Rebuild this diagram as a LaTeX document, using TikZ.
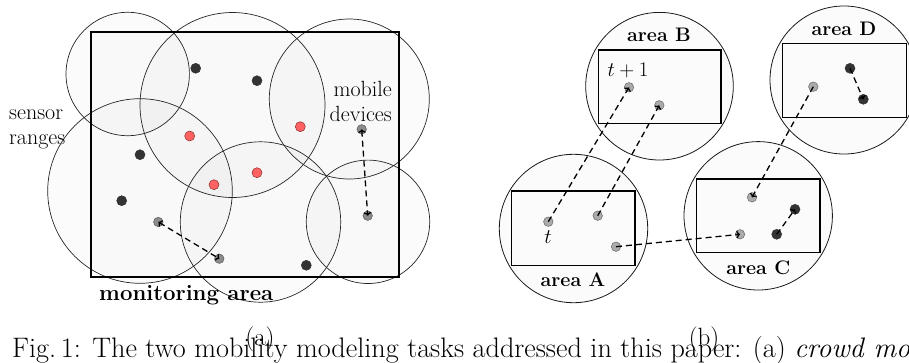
\documentclass[tikz,border=0pt]{standalone}
\usetikzlibrary{arrows.meta}
\definecolor{dotred}{RGB}{255,98,98}
\definecolor{dotredline}{RGB}{140,45,45}
\begin{document}
\begin{tikzpicture}[x=1pt,y=-1pt,
  sensorcirc/.style={draw=black!85, line width=0.7pt, fill=black, fill opacity=0.016},
  areacirc/.style={draw=black!90, line width=0.8pt, fill=black, fill opacity=0.014},
  areabox/.style={draw=black, line width=1.4pt},
  pdot/.style={circle, inner sep=0pt, minimum size=10pt, line width=0.5pt},
  bdot/.style={pdot, fill=black!80, draw=black!80},
  rdot/.style={pdot, fill=dotred, draw=dotredline},
  gdot/.style={pdot, minimum size=9.5pt, fill=black!45, draw=black!65},
  ldot/.style={pdot, minimum size=9.5pt, fill=black!33, draw=black!60},
  arr/.style={line width=1.3pt, dash pattern=on 6pt off 4pt, -{To[length=3.5pt,width=7.5pt]}},
  darr/.style={arr, {To[length=3.5pt,width=7.5pt]}-{To[length=3.5pt,width=7.5pt]}},
  lbl/.style={inner sep=0pt, anchor=base, font=\fontsize{22}{26}\selectfont},
  albl/.style={lbl, font=\fontsize{19.6}{24}\selectfont\bfseries},
  captxt/.style={inner sep=0pt, anchor=base, font=\fontsize{25}{30}\selectfont}
]
\useasboundingbox (0,0) rectangle (909,362);
\clip (0,0) rectangle (909,362);

% ---------- (a) crowd monitoring ----------
\fill[black, fill opacity=0.008] (91,32) rectangle (399,277);
\draw[sensorcirc] (127.7,74) circle[radius=61.7pt];
\draw[sensorcirc] (232.5,105) circle[radius=92.5pt];
\draw[sensorcirc] (349.3,99) circle[radius=80pt];
\draw[sensorcirc] (140,191) circle[radius=92.3pt];
\draw[sensorcirc] (260.5,222) circle[radius=80.2pt];
\draw[sensorcirc] (368,221.8) circle[radius=61.7pt];
\draw[areabox] (91,32) rectangle (399,277);

\node[bdot] (k1) at (195.7,68.3) {};
\node[bdot] (k2) at (257,80.7) {};
\node[bdot] (k3) at (140,154.7) {};
\node[bdot] (k4) at (121.7,200.7) {};
\node[bdot] (k5) at (306.3,265.3) {};
\node[rdot] (r1) at (189.7,136) {};
\node[rdot] (r2) at (300.3,126.7) {};
\node[rdot] (r3) at (214,184.7) {};
\node[rdot] (r4) at (257,172.7) {};
\node[gdot] (m1) at (158.3,222) {};
\node[gdot] (m2) at (219.3,258.7) {};
\node[gdot] (m3) at (361.7,129.3) {};
\node[gdot] (m4) at (367.7,215.7) {};
\draw[darr] (m1.center) -- (m2.center);
\draw[darr] (m3.center) -- (m4.center);

\node[lbl, anchor=base west] (sensor) at (9,119) {sensor};
\node[lbl, anchor=base west] (ranges) at (9,144) {ranges};
\node[lbl, anchor=base east] (mobile) at (392,96) {mobile};
\node[lbl, anchor=base east] (devices) at (392,121.7) {devices};
\node[lbl, anchor=base west, font=\fontsize{22.2}{26}\selectfont\bfseries] (mon) at (99,300) {monitoring area};

% ---------- (b) area transitions ----------
\draw[areacirc] (573.5,228.5) circle[radius=74.2pt];
\draw[areacirc] (659.5,86.2) circle[radius=73.8pt];
\draw[areacirc] (758.2,215.8) circle[radius=74.2pt];
\draw[areacirc] (844,80) circle[radius=74pt];
\draw[areabox] (511.7,191) rectangle (635,265.7);
\draw[areabox] (598.3,50) rectangle (721,123.3);
\draw[areabox] (696.7,179) rectangle (820,252.7);
\draw[areabox] (782.3,43.3) rectangle (906.7,117.3);

\node[albl] (areaA) at (573,286) {area A};
\node[albl] (areaB) at (659,41.7) {area B};
\node[albl] (areaC) at (758.3,274) {area C};
\node[albl] (areaD) at (844,35) {area D};

\node[ldot] (a1) at (548.3,221.7) {};
\node[ldot] (a2) at (597.7,215.7) {};
\node[ldot] (a3) at (616,246.7) {};
\node[ldot] (b1) at (629,87.3) {};
\node[ldot] (b2) at (659.3,105.3) {};
\node[ldot] (c1) at (752,197.3) {};
\node[ldot] (c2) at (740,234.3) {};
\node[bdot] (c3) at (795,209.3) {};
\node[bdot] (c4) at (776.7,234.3) {};
\node[ldot] (d1) at (813.3,86.7) {};
\node[bdot] (d2) at (850,68.3) {};
\node[bdot] (d3) at (863.3,99.3) {};

\draw[arr] (a1.center) -- (b1.center);
\draw[arr] (a2.center) -- (b2.center);
\draw[arr] (a3.center) -- (c2.center);
\draw[arr] (d1.center) -- (c1.center);
\draw[arr] (d2.center) -- (d3.center);
\draw[arr] (c4.center) -- (c3.center);

\node[lbl, font=\fontsize{20.5}{24}\selectfont] (tlbl) at (548,243) {$t$};
\node[lbl, font=\fontsize{20.5}{24}\selectfont] (t1lbl) at (628,76.7) {$t+1$};

% ---------- captions ----------
\node[captxt] (suba) at (260,345) {(a)};
\node[captxt] (subb) at (704,345) {(b)};
\node[captxt, anchor=base west, font=\fontsize{28.2}{33}\selectfont] (caption) at (12,357) {Fig.\,1: The two mobility modeling tasks addressed in this paper: (a) \textit{crowd mo}};
\end{tikzpicture}
\end{document}
